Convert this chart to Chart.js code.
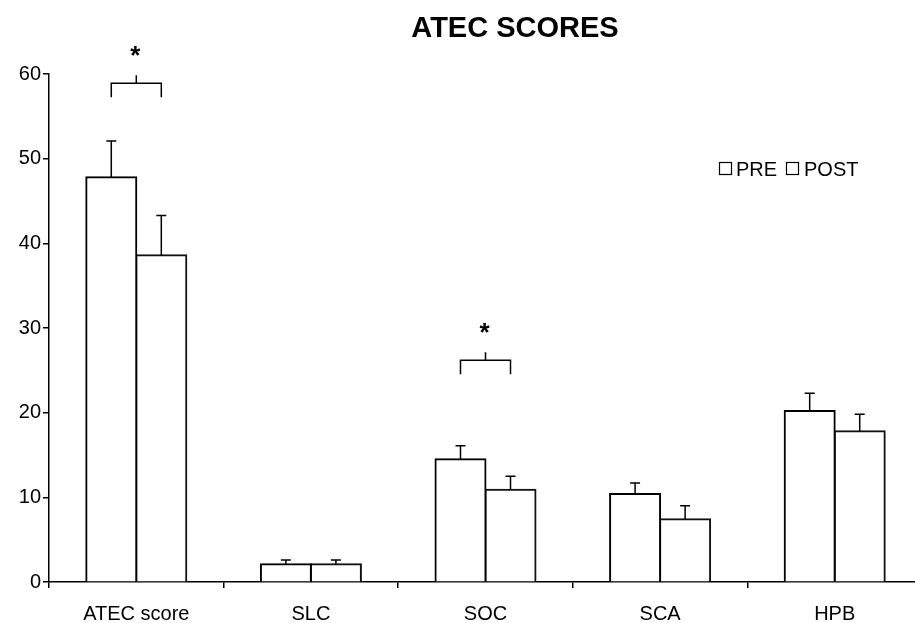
<!DOCTYPE html>
<html>
<head>
<meta charset="utf-8">
<script src="https://cdn.jsdelivr.net/npm/chart.js@4.4.0/dist/chart.umd.min.js"></script>
<style>
  html, body { margin: 0; padding: 0; background: #fff; overflow: hidden; }
  #wrap { width: 925px; height: 623px; }
</style>
</head>
<body>
<div id="wrap"><canvas id="myChart" width="925" height="623"></canvas></div>
<script>
// valores
const categorias = ['ATEC score', 'SLC', 'SOC', 'SCA', 'HPB']
const pre = [47.8, 2.1, 14.5, 10.4, 20.2]
const post = [38.6, 2.1, 10.9, 7.4, 17.8]
const erroPre = [4.3, 0.5, 1.6, 1.3, 2.1]
const erroPost = [4.7, 0.5, 1.6, 1.6, 2.0]
const significativos = [0, 2]
const yTicks = [0, 10, 20, 30, 40, 50, 60]

const fonte = '"Liberation Sans", Arial, sans-serif'

// barras de erro, colchetes, legenda e titulo
const extras = {
  id: 'extras',
  afterDatasetsDraw(chart) {
    const ctx = chart.ctx
    const y = chart.scales.y
    const erros = [erroPre, erroPost]
    const valores = [pre, post]
    ctx.save()
    ctx.strokeStyle = '#000'
    ctx.lineWidth = 1.5
    for (let d = 0; d < 2; d++) {
      const meta = chart.getDatasetMeta(d)
      meta.data.forEach((bar, i) => {
        const topo = y.getPixelForValue(valores[d][i] + erros[d][i])
        ctx.beginPath()
        ctx.moveTo(bar.x, bar.y)
        ctx.lineTo(bar.x, topo)
        ctx.moveTo(bar.x - 5, topo)
        ctx.lineTo(bar.x + 5, topo)
        ctx.stroke()
      })
    }

    // colchetes de significancia
    const niveis = { 0: 58.9, 2: 26.2 }
    significativos.forEach(i => {
      const a = chart.getDatasetMeta(0).data[i].x
      const b = chart.getDatasetMeta(1).data[i].x
      const h = y.getPixelForValue(niveis[i])
      const meio = (a + b) / 2
      ctx.beginPath()
      ctx.moveTo(a, h + 14)
      ctx.lineTo(a, h)
      ctx.lineTo(b, h)
      ctx.lineTo(b, h + 14)
      ctx.moveTo(meio, h)
      ctx.lineTo(meio, h - 8)
      ctx.stroke()
      ctx.fillStyle = '#000'
      ctx.font = 'bold 26px ' + fonte
      ctx.textAlign = 'center'
      ctx.textBaseline = 'alphabetic'
      ctx.fillText('*', meio - 1, h - 19)
    })

    // legenda
    ctx.lineWidth = 1.2
    ctx.strokeRect(719.5, 162.5, 12, 12)
    ctx.strokeRect(786.5, 162.5, 12, 12)
    ctx.fillStyle = '#000'
    ctx.font = '20px ' + fonte
    ctx.textAlign = 'left'
    ctx.fillText('PRE', 736, 176)
    ctx.fillText('POST', 804, 176)

    // titulo
    ctx.font = 'bold 29px ' + fonte
    ctx.textAlign = 'center'
    ctx.fillText('ATEC SCORES', 515, 37)
    ctx.restore()
  }
}

const ctx = document.getElementById('myChart')

const data = {
  labels: categorias,
  datasets: [{
    label: 'PRE',
    data: pre,
    backgroundColor: '#fff',
    borderColor: '#000',
    borderWidth: 2,
    inflateAmount: 1,
    barPercentage: 1,
    categoryPercentage: 0.573
  }, {
    label: 'POST',
    data: post,
    backgroundColor: '#fff',
    borderColor: '#111',
    borderWidth: 2,
    inflateAmount: 1,
    barPercentage: 1,
    categoryPercentage: 0.573
  }]
}

const config = {
  type: 'bar',
  data: data,
  options: {
    responsive: false,
    animation: false,
    layout: { padding: { top: 74, right: 3, left: 0, bottom: 0 } },
    plugins: {
      legend: { display: false },
      title: { display: false },
      tooltip: { enabled: false }
    },
    scales: {
      x: {
        afterFit(s) { s.height = 41 },
        border: { color: '#000', width: 1.5 },
        grid: { display: true, offset: true, drawOnChartArea: false, tickLength: 6, color: '#000', lineWidth: 1.5 },
        ticks: { color: '#000', padding: 14, font: { family: fonte, size: 20 } }
      },
      y: {
        min: 0,
        max: 60,
        afterFit(s) { s.width = 49 },
        afterBuildTicks(s) { s.ticks = yTicks.map(v => ({ value: v })) },
        border: { color: '#000', width: 1.5 },
        grid: { drawOnChartArea: false, tickLength: 6, color: '#000', lineWidth: 1.5 },
        ticks: { color: '#000', padding: 2, font: { family: fonte, size: 20 } }
      }
    }
  },
  plugins: [extras]
}

const myChart = new Chart(ctx, config)
</script>
</body>
</html>
